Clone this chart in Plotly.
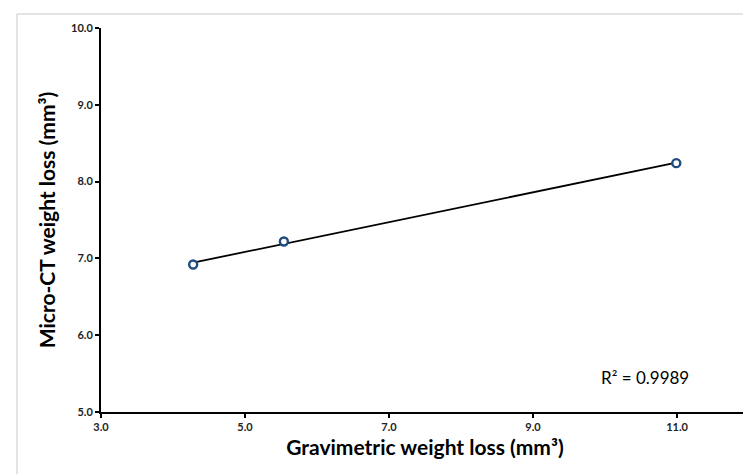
import numpy as np
import plotly.graph_objects as go

# Data
gravimetric = [4.28, 5.54, 10.99]
micro_ct = [6.92, 7.22, 8.24]
r2_label = "R² = 0.9989"
x_title = "Gravimetric weight loss (mm³)"
y_title = "Micro-CT weight loss (mm³)"

# linear trendline from the data
slope, intercept = np.polyfit(gravimetric, micro_ct, 1)
tx = [min(gravimetric), max(gravimetric)]
ty = [slope * v + intercept for v in tx]

W, H = 751, 474
L, R, T, B = 93, 10, 20, 70
pw, ph = W - L - R, H - T - B

fig = go.Figure()
fig.add_trace(go.Scatter(x=tx, y=ty, mode="lines",
                         line=dict(color="black", width=1.8),
                         hoverinfo="skip", showlegend=False))
fig.add_trace(go.Scatter(x=gravimetric, y=micro_ct, mode="markers",
                         marker=dict(symbol="circle", size=8, color="white",
                                     line=dict(color="#1f4a7d", width=2.4)),
                         showlegend=False))

fig.add_annotation(x=10.56, y=5.45, xref="x", yref="y", text=r2_label,
                   showarrow=False,
                   font=dict(family="Lato", size=17, color="black"))

# chart border (light grey)
x0 = (9 - L) / pw
y1 = (H - 6 - B) / ph
fig.add_shape(type="rect", xref="paper", yref="paper",
              x0=x0, x1=(W + 20 - L) / pw, y0=(-30 - B) / ph, y1=y1,
              line=dict(color="#c8c8c8", width=1), layer="below")

axis_common = dict(showgrid=False, zeroline=False, showline=True,
                   linecolor="black", linewidth=2, ticks="outside",
                   ticklen=4, tickwidth=1.5, tickcolor="black",
                   tickformat=".1f",
                   tickfont=dict(family="Lato", size=11, color="#222",
                                 weight="bold"))

fig.update_xaxes(range=[3, 12], dtick=2, tick0=3,
                 title=dict(text=x_title, standoff=8,
                            font=dict(family="Lato", size=21, color="black",
                                      weight="bold")),
                 **axis_common)
fig.update_yaxes(range=[5, 10], dtick=1, tick0=5,
                 title=dict(text=y_title, standoff=10,
                            font=dict(family="Lato", size=21, color="black",
                                      weight="bold")),
                 **axis_common)

fig.update_layout(width=W, height=H,
                  margin=dict(l=L, r=R, t=T, b=B),
                  paper_bgcolor="white", plot_bgcolor="white")

fig.write_html("out.html")
